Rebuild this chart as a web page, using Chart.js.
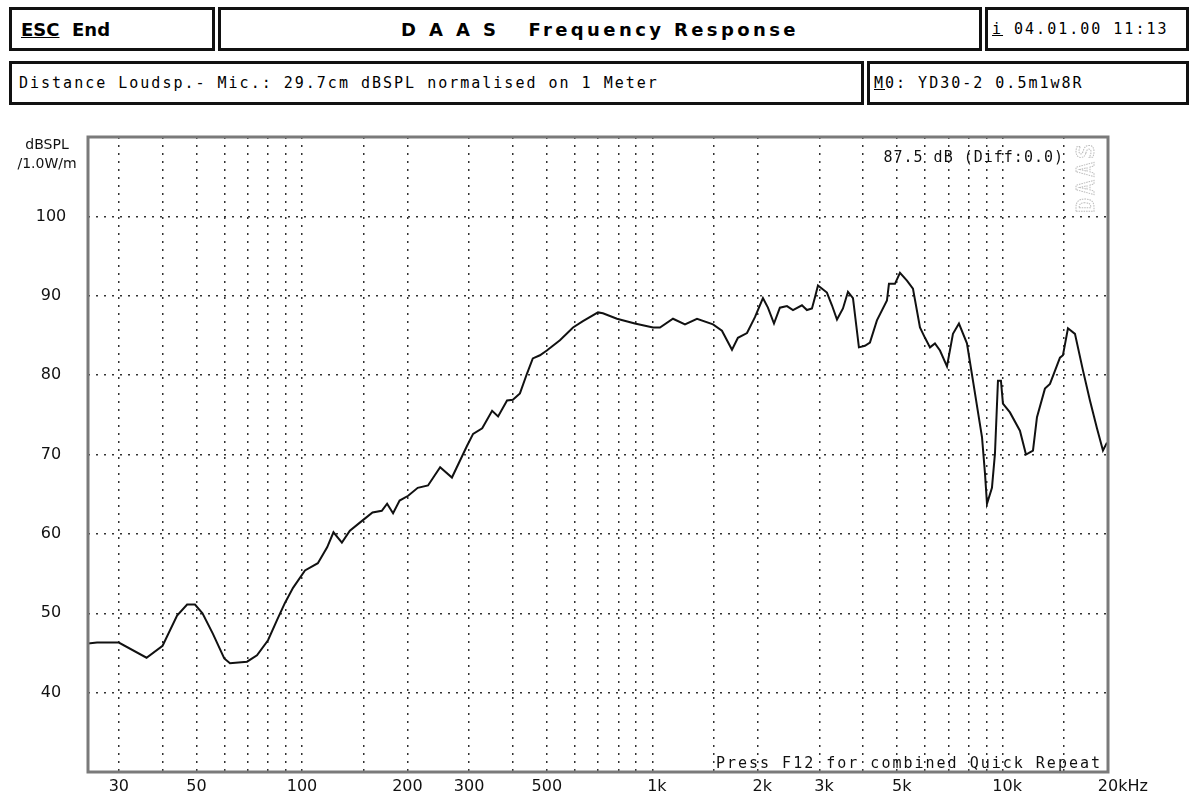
<!DOCTYPE html>
<html>
<head>
<meta charset="utf-8">
<script src="https://cdn.jsdelivr.net/npm/chart.js@4"></script>
<style>
  html, body { margin: 0; padding: 0; background: #fff; }
  body { width: 1196px; height: 800px; position: relative; overflow: hidden; color: #000; }
  .box {
    position: absolute; box-sizing: border-box; border: 3px solid #111;
    display: flex; align-items: center; white-space: nowrap;
    font-family: "DejaVu Sans Mono", monospace; font-size: 15px; letter-spacing: 2px;
  }
  .bold { font-family: "DejaVu Sans", sans-serif; font-weight: bold; font-size: 18px; letter-spacing: 0; }
  #wrap { position: absolute; left: 0; top: 0; width: 1196px; height: 800px; }
</style>
</head>
<body>
<div class="box bold" style="left:9px; top:7px; width:206px; height:44px; padding-left:9px;"><u>ESC</u>&nbsp;&nbsp;End</div>
<div class="box bold" style="left:218px; top:7px; width:764px; height:44px; justify-content:center; letter-spacing:3.4px;">D A A S&nbsp;&nbsp;&nbsp;Frequency Response</div>
<div class="box" style="left:985px; top:7px; width:204px; height:44px; padding-left:4px;"><u>i</u>&nbsp;04.01.00 11:13</div>
<div class="box" style="left:9px; top:61px; width:855px; height:44px; padding-left:7px;">Distance Loudsp.- Mic.: 29.7cm dBSPL normalised on 1 Meter</div>
<div class="box" style="left:867px; top:61px; width:322px; height:44px; padding-left:4px;"><u>M</u>0: YD30-2 0.5m1w8R</div>

<div id="wrap"><canvas id="chart"></canvas></div>

<script>
// frequency response (Hz / dB SPL)
const freq = [24.5, 26, 30, 36, 40, 44, 47, 49.5, 52, 55.7, 60, 62.3, 69.7, 74.4, 80, 84.8, 89.4, 94.3,
  102, 111, 118, 123, 130, 137, 149, 159, 169, 175, 182, 190, 201, 214, 229, 248, 268, 296, 308, 327,
  349, 363, 385, 400, 419, 439, 456, 478, 500, 545, 594, 634, 700, 723, 793, 892, 1005, 1052, 1146,
  1240, 1342, 1491, 1581, 1689, 1756, 1864, 1964, 2070, 2139, 2226, 2314, 2424, 2522, 2675, 2764,
  2857, 2914, 2972, 3152, 3258, 3368, 3503, 3620, 3741, 3890, 4047, 4182, 4379, 4677, 4739, 4930,
  5095, 5335, 5549, 5811, 6006, 6207, 6412, 6628, 6940, 7218, 7508, 7913, 8232, 8736, 8910, 9028,
  9327, 9513, 9703, 9895, 10026, 10498, 11210, 11665, 12214, 12539, 13213, 13656, 14585, 14873,
  15372, 16096, 16964, 17762, 18600, 19348, 19863];
const spl = [46.2, 46.3, 46.3, 44.4, 45.9, 49.7, 51.1, 51.1, 50.0, 47.4, 44.3, 43.7, 43.9, 44.7, 46.6,
  49.1, 51.3, 53.2, 55.4, 56.3, 58.3, 60.2, 58.9, 60.4, 61.7, 62.7, 62.9, 63.8, 62.6, 64.2, 64.8,
  65.8, 66.1, 68.4, 67.1, 71.1, 72.6, 73.3, 75.5, 74.8, 76.8, 76.9, 77.7, 80.2, 82.1, 82.5, 83.1,
  84.4, 86.0, 86.8, 87.9, 87.8, 87.1, 86.5, 86.0, 86.0, 87.1, 86.4, 87.1, 86.4, 85.6, 83.2, 84.7,
  85.3, 87.3, 89.7, 88.5, 86.5, 88.5, 88.7, 88.2, 88.8, 88.2, 88.4, 89.8, 91.3, 90.4, 88.8, 87.0,
  88.4, 90.5, 89.7, 83.5, 83.7, 84.1, 86.9, 89.4, 91.5, 91.5, 92.9, 91.9, 90.9, 86.0, 84.7, 83.5,
  84.0, 83.1, 81.1, 85.2, 86.5, 84.0, 79.3, 72.2, 67.6, 63.8, 65.8, 70.1, 79.3, 79.3, 76.4, 75.3,
  73.0, 70.0, 70.5, 74.7, 78.3, 78.9, 82.2, 82.5, 85.9, 85.2, 80.6, 76.8, 73.3, 70.5, 71.5];

// axes
const xGrid = [30, 40, 50, 60, 70, 80, 90, 100, 150, 200, 300, 400, 500, 600, 700, 800, 900,
  1000, 1500, 2000, 3000, 4000, 5000, 6000, 7000, 8000, 9000, 10000, 15000];
const xTickValues = [30, 50, 100, 200, 300, 500, 1000, 2000, 3000, 5000, 10000, 20000];
const xTickLabels = ['30', '50', '100', '200', '300', '500', '1k', '2k', '3k', '5k', '10k', '20kHz'];
const yTicks = [40, 50, 60, 70, 80, 90, 100];

const overlay = {
  id: 'overlay',
  afterDraw(chart) {
    const { ctx, chartArea: a, scales } = chart;
    ctx.save();
    // frame
    ctx.strokeStyle = '#7a7a7a';
    ctx.lineWidth = 3;
    ctx.strokeRect(a.left, a.top, a.right - a.left, a.bottom - a.top);

    ctx.fillStyle = '#111';
    ctx.font = '16px "DejaVu Sans", sans-serif';
    ctx.textBaseline = 'middle';
    ctx.textAlign = 'center';
    yTicks.forEach(v => ctx.fillText(String(v), 51, scales.y.getPixelForValue(v)));

    ctx.textAlign = 'left';
    xTickValues.forEach((v, i) => {
      const lab = xTickLabels[i];
      const num = lab.match(/^\d+/)[0];
      const w = ctx.measureText(num).width;
      ctx.fillText(lab, scales.x.getPixelForValue(v) - w / 2, 787);
    });

    ctx.font = '14px "DejaVu Sans", sans-serif';
    ctx.textAlign = 'center';
    ctx.fillText('dBSPL', 47, 145);
    ctx.fillText('/1.0W/m', 47, 164);

    ctx.font = '15px "DejaVu Sans Mono", monospace';
    ctx.letterSpacing = '1px';
    ctx.textAlign = 'right';
    ctx.fillText('87.5 dB (Diff:0.0)', 1064, 158);
    ctx.letterSpacing = '2px';
    ctx.textBaseline = 'alphabetic';
    ctx.fillText('Press F12 for combined Quick Repeat', 1102, 768);
    ctx.letterSpacing = '0px';

    // vertical DAAS logo
    ctx.translate(1087, 177);
    ctx.rotate(-Math.PI / 2);
    ctx.font = 'bold 25px "DejaVu Sans Mono", monospace';
    ctx.letterSpacing = '3px';
    ctx.textAlign = 'center';
    ctx.textBaseline = 'middle';
    ctx.strokeStyle = '#bdbdbd';
    ctx.lineWidth = 1;
    ctx.setLineDash([1.5, 1]);
    ctx.strokeText('DAAS', 0, 0);
    ctx.restore();
  }
};

new Chart(document.getElementById('chart'), {
  type: 'line',
  data: {
    datasets: [{
      data: freq.map((f, i) => ({ x: f, y: spl[i] })),
      borderColor: '#111',
      borderWidth: 2,
      pointRadius: 0,
      tension: 0
    }]
  },
  options: {
    responsive: true,
    maintainAspectRatio: false,
    animation: false,
    layout: { padding: { left: 88, top: 137, right: 88, bottom: 28 } },
    plugins: { legend: { display: false }, tooltip: { enabled: false } },
    scales: {
      x: {
        type: 'logarithmic',
        min: 24.5,
        max: 20000,
        afterBuildTicks: s => { s.ticks = xGrid.map(v => ({ value: v })); },
        afterFit: s => { s.height = 0; },
        ticks: { display: false },
        grid: { color: '#333', lineWidth: 1.5, drawTicks: false },
        border: { display: false, dash: [2, 6] }
      },
      y: {
        min: 30,
        max: 110,
        afterBuildTicks: s => { s.ticks = yTicks.map(v => ({ value: v })); },
        afterFit: s => { s.width = 0; },
        ticks: { display: false },
        grid: { color: '#333', lineWidth: 1.5, drawTicks: false },
        border: { display: false, dash: [2, 6] }
      }
    }
  },
  plugins: [overlay]
});
</script>
</body>
</html>
